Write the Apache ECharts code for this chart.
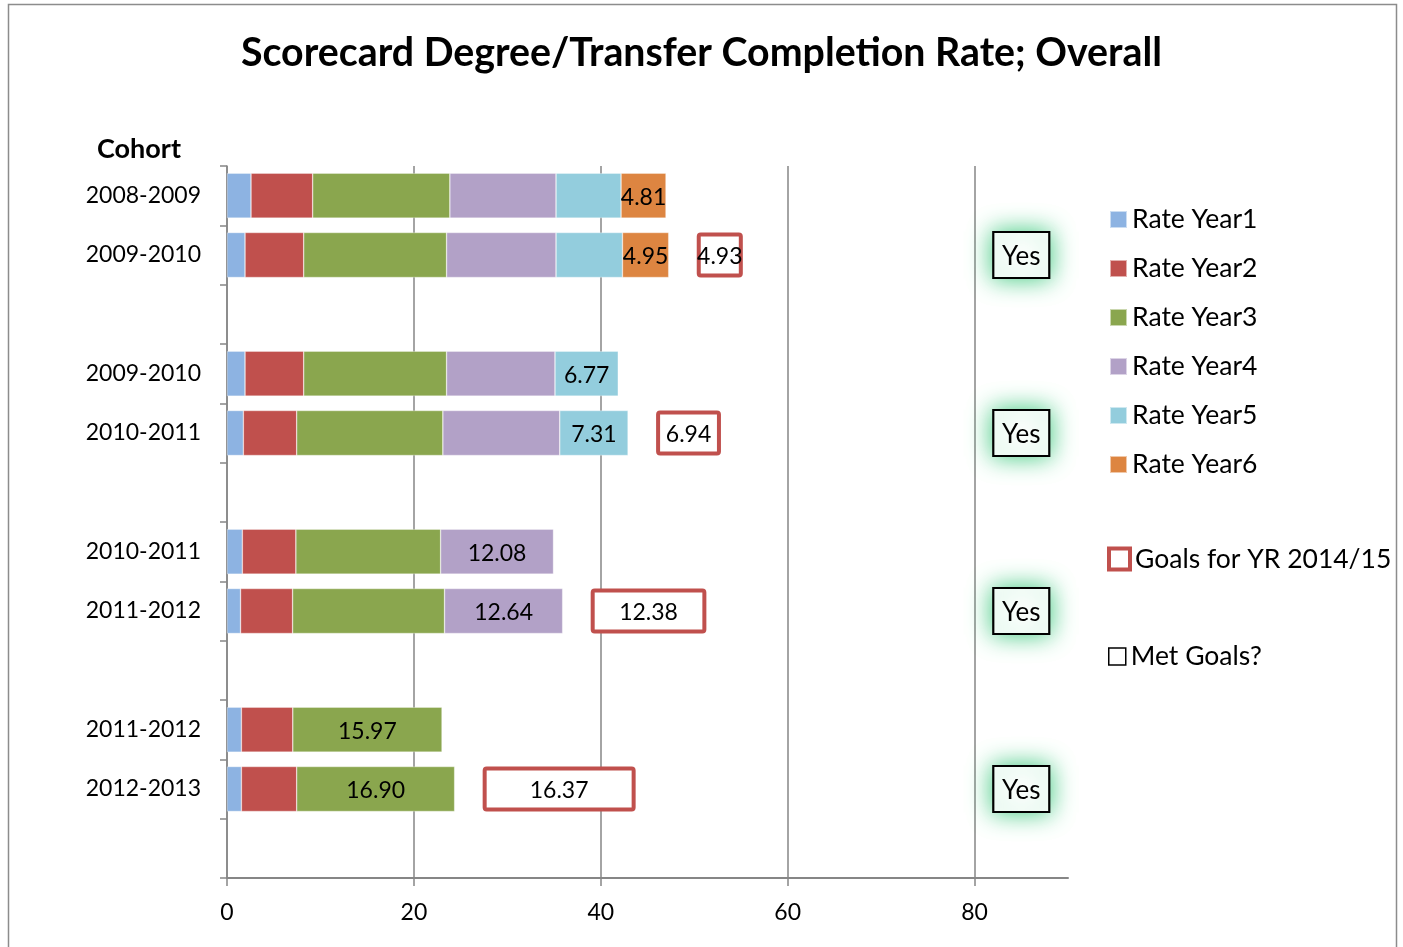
<!DOCTYPE html>
<html><head><meta charset="utf-8">
<script src="https://cdn.jsdelivr.net/npm/echarts@6/dist/echarts.min.js"></script>
<style>html,body{margin:0;padding:0;background:#fff}#c{width:1403px;height:947px}</style>
</head><body><div id="c"></div>
<script>
const cohorts   = ['2008-2009','2009-2010','','2009-2010','2010-2011','','2010-2011','2011-2012','','2011-2012','2012-2013',''];
const rateYear1 = [2.57, 1.93, null, 1.93, 1.75, null, 1.64, 1.45, null, 1.54, 1.54, null];
const rateYear2 = [6.60, 6.28, null, 6.28, 5.71, null, 5.73, 5.57, null, 5.50, 5.92, null];
const rateYear3 = [14.68, 15.29, null, 15.29, 15.64, null, 15.49, 16.26, null, 15.97, 16.90, null];
const rateYear4 = [11.36, 11.71, null, 11.60, 12.51, null, 12.08, 12.64, null, null, null, null];
const rateYear5 = [6.96, 7.11, null, 6.77, 7.31, null, null, null, null, null, null, null];
const rateYear6 = [4.81, 4.95, null, null, null, null, null, null, null, null, null, null];
const goals     = [null, 4.93, null, null, 6.94, null, null, 12.38, null, null, 16.37, null];
const metGoals  = ['', 'Yes', '', '', 'Yes', '', '', 'Yes', '', '', 'Yes', ''];
const xTicks    = [0, 20, 40, 60, 80];
const rateNames = ['Rate Year1','Rate Year2','Rate Year3','Rate Year4','Rate Year5','Rate Year6'];

const FONT = 'Lato';
const colors = ['#8DB3E2','#C0504D','#8AA64E','#B2A1C7','#93CDDD','#DD8541'];
const rates = [rateYear1, rateYear2, rateYear3, rateYear4, rateYear5, rateYear6];
const GAP = 3;     // blank gap before goal box (axis units)
const MET_X = 85;  // column where "Met Goals?" boxes sit

const lastIdx = cohorts.map((_, i) => rates.reduce((acc, a, k) => a[i] != null ? k : acc, -1));

const series = rates.map((arr, s) => ({
  name: rateNames[s], type: 'bar', stack: 'total', barWidth: 45,
  itemStyle: { color: colors[s], borderColor: 'rgba(255,255,255,0.55)', borderWidth: 0.6 },
  label: { position: 'inside', offset: [0, 1.5], color: '#000', fontSize: 23, fontFamily: FONT,
           formatter: p => Number(p.value).toFixed(2) },
  data: arr.map((v, i) => ({ value: v == null ? '-' : v, label: { show: s === lastIdx[i] } }))
}));
series.push({
  name: 'spacer', type: 'bar', stack: 'total', barWidth: 45, silent: true,
  itemStyle: { color: 'rgba(0,0,0,0)' },
  data: goals.map(g => g == null ? '-' : GAP)
});
series.push({
  name: 'Goals for YR 2014/15', type: 'bar', stack: 'total', barWidth: 45,
  itemStyle: { color: '#fff', borderColor: '#C0504D', borderWidth: 4, borderRadius: 2 },
  label: { show: true, position: 'inside', offset: [0, 1.5], color: '#000', fontSize: 23, fontFamily: FONT,
           formatter: p => Number(p.value).toFixed(2) },
  data: goals.map(g => g == null ? '-' : g)
});
series.push({
  name: 'Met Goals?', type: 'scatter', symbol: 'rect', symbolSize: [56, 46], z: 5,
  itemStyle: { color: '#fff', opacity: 1, borderColor: '#000', borderWidth: 2,
               shadowBlur: 24, shadowColor: 'rgba(60,200,125,1)' },
  label: { show: true, position: 'inside', offset: [0, 2], color: '#000', fontSize: 26, fontFamily: FONT,
           formatter: p => p.data[2] },
  data: metGoals.map((m, i) => m ? [MET_X, i, m] : null).filter(d => d)
});

const legendText = { fontSize: 26.5, fontFamily: FONT, color: '#000' };
const option = {
  animation: false,
  backgroundColor: '#fff',
  title: [
    { text: 'Scorecard Degree/Transfer Completion Rate; Overall', left: 'center', top: 29,
      textStyle: { fontSize: 39.3, fontWeight: 'bold', fontFamily: FONT, color: '#000' } },
    { text: 'Cohort', left: 92, top: 131,
      textStyle: { fontSize: 27, fontWeight: 'bold', fontFamily: FONT, color: '#000' } }
  ],
  graphic: [{ type: 'rect', shape: { x: 8.5, y: 4.5, width: 1388, height: 970 },
              style: { fill: 'none', stroke: '#8c8c8c', lineWidth: 1.5 }, silent: true }],
  legend: [
    { orient: 'vertical', left: 1109, top: 206, padding: 0, itemWidth: 17, itemHeight: 17, itemGap: 22,
      icon: 'rect', textStyle: legendText, data: rateNames },
    { orient: 'vertical', left: 1107, top: 545.5, padding: 0, itemWidth: 21, itemHeight: 21, textStyle: legendText,
      data: [{ name: 'Goals for YR 2014/15', icon: 'rect',
               itemStyle: { color: '#fff', borderColor: '#C0504D', borderWidth: 4 } }] },
    { orient: 'vertical', left: 1108, top: 643, padding: 0, itemWidth: 17, itemHeight: 17, textStyle: legendText,
      data: [{ name: 'Met Goals?', icon: 'rect',
               itemStyle: { color: '#fff', opacity: 1, borderColor: '#000', borderWidth: 1.5, shadowBlur: 0 } }] }
  ],
  grid: { left: 227, right: 335, top: 166, bottom: 69, containLabel: false },
  xAxis: {
    type: 'value', min: 0, max: 90, interval: 20,
    axisLine: { show: true, lineStyle: { color: '#868686', width: 2 } },
    axisTick: { show: true, length: 8, lineStyle: { color: '#868686', width: 1.5 }, customValues: xTicks },
    axisLabel: { color: '#000', fontSize: 23, fontFamily: FONT, margin: 23, customValues: xTicks },
    splitLine: { show: true, lineStyle: { color: '#868686', width: 1.5 } }
  },
  yAxis: {
    type: 'category', inverse: true, data: cohorts.map((c, i) => 'c' + i),
    axisLine: { show: true, lineStyle: { color: '#868686', width: 1.5 } },
    axisTick: { show: true, length: 7, inside: false, lineStyle: { color: '#868686', width: 1.5 } },
    axisLabel: { color: '#000', fontSize: 23, fontFamily: FONT, margin: 26,
                 formatter: (v, i) => cohorts[i] },
    splitLine: { show: false }
  },
  series
};
const chart = echarts.init(document.getElementById('c'), null, { renderer: 'canvas' });
chart.setOption(option);
</script></body></html>
